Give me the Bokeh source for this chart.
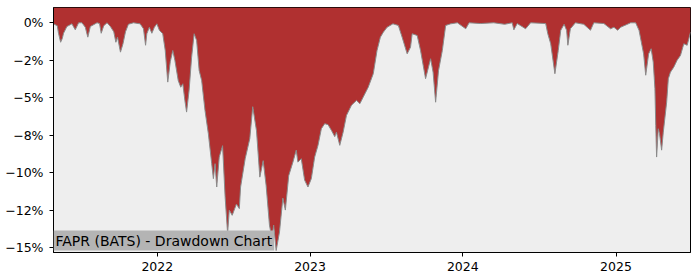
import pandas as pd
from bokeh.plotting import figure
from bokeh.models import FixedTicker, DatetimeTickFormatter, Label, Range1d, ColumnDataSource
from bokeh.embed import file_html
from bokeh.resources import INLINE

dates = [
    "2021-04-28", "2021-05-07", "2021-05-10", "2021-05-15", "2021-05-19", "2021-05-22", "2021-05-30",
    "2021-06-11", "2021-06-19", "2021-06-27", "2021-07-05", "2021-07-13", "2021-07-19", "2021-07-25",
    "2021-08-10", "2021-08-16", "2021-08-20", "2021-08-26", "2021-09-03", "2021-09-11", "2021-09-19",
    "2021-09-24", "2021-09-28", "2021-10-05", "2021-10-11", "2021-10-17", "2021-10-24", "2021-11-05",
    "2021-11-21", "2021-11-29", "2021-12-04", "2021-12-07", "2021-12-13", "2021-12-19", "2021-12-25",
    "2021-12-31",
    "2022-01-06", "2022-01-14", "2022-01-20", "2022-01-26", "2022-02-01", "2022-02-07", "2022-02-12",
    "2022-02-20", "2022-02-26", "2022-03-03", "2022-03-08", "2022-03-12", "2022-03-18", "2022-03-24",
    "2022-03-30", "2022-04-05", "2022-04-11", "2022-04-17", "2022-04-25", "2022-05-03", "2022-05-11",
    "2022-05-15", "2022-05-19", "2022-05-23", "2022-05-29", "2022-06-06", "2022-06-12", "2022-06-18",
    "2022-06-22", "2022-06-29", "2022-07-09", "2022-07-16", "2022-07-19", "2022-07-30", "2022-08-10",
    "2022-08-17", "2022-08-26", "2022-09-03", "2022-09-11", "2022-09-18", "2022-09-26", "2022-10-02",
    "2022-10-06", "2022-10-12", "2022-10-20", "2022-10-28", "2022-11-03", "2022-11-11", "2022-11-21",
    "2022-11-29", "2022-12-03", "2022-12-11", "2022-12-19", "2022-12-27",
    "2023-01-04", "2023-01-12", "2023-01-20", "2023-01-28", "2023-02-05", "2023-02-13", "2023-02-21",
    "2023-03-01", "2023-03-05", "2023-03-13", "2023-03-21", "2023-03-29", "2023-04-10", "2023-04-22",
    "2023-04-30", "2023-05-08", "2023-05-20", "2023-06-01", "2023-06-10", "2023-06-18", "2023-06-25",
    "2023-07-04", "2023-07-18", "2023-07-31", "2023-08-09", "2023-08-21", "2023-08-29", "2023-09-02",
    "2023-09-14", "2023-09-22", "2023-10-04", "2023-10-16", "2023-10-22", "2023-10-28", "2023-11-04",
    "2023-11-13", "2023-11-21", "2023-12-03", "2023-12-19",
    "2024-01-08", "2024-01-16", "2024-02-12", "2024-03-15", "2024-04-10", "2024-04-28", "2024-05-02",
    "2024-05-10", "2024-05-30", "2024-06-11", "2024-07-17", "2024-07-22", "2024-07-29", "2024-08-08",
    "2024-08-16", "2024-08-22", "2024-08-30", "2024-09-05", "2024-09-08", "2024-09-14", "2024-09-26",
    "2024-10-16", "2024-11-01", "2024-11-09", "2024-12-03", "2024-12-19", "2024-12-27",
    "2025-01-05", "2025-01-12", "2025-02-05", "2025-02-17", "2025-02-25", "2025-03-08", "2025-03-13",
    "2025-03-20", "2025-03-26", "2025-03-31", "2025-04-04", "2025-04-06", "2025-04-08", "2025-04-12",
    "2025-04-15", "2025-04-20", "2025-04-24", "2025-05-02", "2025-05-06", "2025-05-11", "2025-05-19",
    "2025-05-27", "2025-06-04", "2025-06-12", "2025-06-20", "2025-06-28",
]

drawdown = [
    -0.07, -0.2, -0.7, -1.3, -1.05, -0.7, -0.25,
    -0.07, -0.47, 0.0, 0.0, -0.3, -0.96, -0.25,
    0.0, -0.05, -0.7, -0.2, 0.0, -0.25, -0.6,
    -1.3, -0.96, -1.96, -1.4, -0.6, -0.1, 0.0,
    -0.07, -0.4, -1.5, -0.73, -0.3, -0.7, -0.3,
    -0.07,
    -0.5, -0.73, -1.85, -3.96, -2.6, -1.85, -2.5,
    -3.85, -4.3, -4.07, -5.2, -5.96, -4.5, -2.3,
    -0.73, -1.18, -3.18, -3.85, -5.85, -7.4, -9.4,
    -10.4, -9.4, -10.96, -8.96, -8.2, -11.6, -14.07,
    -12.5, -12.85, -12.1, -12.4, -10.96, -9.07, -7.73,
    -5.6, -7.2, -10.3, -9.2, -10.85, -13.5, -14.4,
    -13.5, -15.2, -13.96, -11.7, -12.5, -10.2, -9.3,
    -8.5, -9.3, -9.07, -10.5, -10.96,
    -10.4, -8.96, -8.18, -7.07, -6.73, -6.8, -7.18,
    -7.6, -7.3, -8.18, -7.3, -6.18, -5.5, -5.18,
    -5.4, -4.96, -4.3, -3.4, -1.85, -0.96, -0.63,
    -0.3, -0.07, -0.18, -0.96, -2.07, -1.63, -0.73,
    -0.85, -1.85, -3.73, -2.4, -3.3, -5.3, -3.18,
    -1.85, -0.18, -0.07, 0.0,
    -0.4, 0.0, -0.05, 0.0, -0.1, 0.0, -0.47,
    -0.05, -0.4, 0.0, -0.05, -0.73, -1.4, -3.4,
    -1.85, -0.5, -0.1, -0.5, -1.5, -0.4, 0.0,
    -0.1, -0.5, 0.0, -0.05, -0.4, -0.3,
    -0.5, -0.3, 0.0, 0.0, -0.5, -2.07, -3.5,
    -2.07, -1.73, -2.63, -4.4, -6.85, -8.96, -7.07,
    -7.4, -8.5, -7.3, -5.3, -3.73, -3.3, -2.96,
    -2.5, -2.18, -1.4, -1.5, -0.63,
]

y_ticks = [0, -2.5, -5, -7.5, -10, -12.5, -15]
y_tick_labels = ["0%", "\u22122%", "\u22125%", "\u22128%", "\u221210%", "\u221212%", "\u221215%"]
x_tick_years = ["2022", "2023", "2024", "2025"]
title_text = "FAPR (BATS) - Drawdown Chart"
y_min, y_max = -15.33, 1.02

FONT = "DejaVu Sans"

x = pd.to_datetime(dates)
src = ColumnDataSource(dict(x=x, dd=drawdown, top=[y_max] * len(drawdown)))

p = figure(
    width=700, height=280, x_axis_type="datetime",
    output_backend="svg", toolbar_location=None,
    x_range=Range1d(x[0], x[-1]), y_range=Range1d(y_min, y_max),
    min_border_left=53, min_border_right=10, min_border_top=7, min_border_bottom=28,
    background_fill_color="#EEEEEE", border_fill_color="white",
)

p.varea(x="x", y1="dd", y2="top", source=src, fill_color="#B03030")
p.line(x="x", y="dd", source=src, line_color="#8a8a8a", line_width=1)

p.xgrid.visible = False
p.ygrid.visible = False
p.outline_line_color = "black"
p.outline_line_width = 1

p.yaxis.ticker = FixedTicker(ticks=y_ticks)
p.yaxis.major_label_overrides = dict(zip(y_ticks, y_tick_labels))

x_ticks = [pd.Timestamp(f"{yr}-01-01").value / 1e6 for yr in x_tick_years]
p.xaxis.ticker = FixedTicker(ticks=x_ticks)
p.xaxis.formatter = DatetimeTickFormatter(
    years="%Y", months="%Y", days="%Y", hours="%Y", minutes="%Y", seconds="%Y",
    milliseconds="%Y", microseconds="%Y",
)

for ax in (p.xaxis[0], p.yaxis[0]):
    ax.axis_line_color = "black"
    ax.major_tick_line_color = "black"
    ax.minor_tick_line_color = None
    ax.major_tick_out = 4
    ax.major_tick_in = 0
    ax.major_label_text_font = FONT
    ax.major_label_text_font_size = "12.5px"
    ax.major_label_text_color = "black"
p.yaxis.major_label_standoff = 6
p.xaxis.major_label_standoff = 5

label = Label(
    x=x[0].value / 1e6, y=y_min, text=title_text,
    text_font=FONT, text_font_size="14px", text_color="black",
    text_baseline="bottom", text_align="left",
    background_fill_color="#B4B4B4", padding=2, y_offset=2,
)
p.add_layout(label)

open("out.html", "w").write(file_html(p, INLINE))
